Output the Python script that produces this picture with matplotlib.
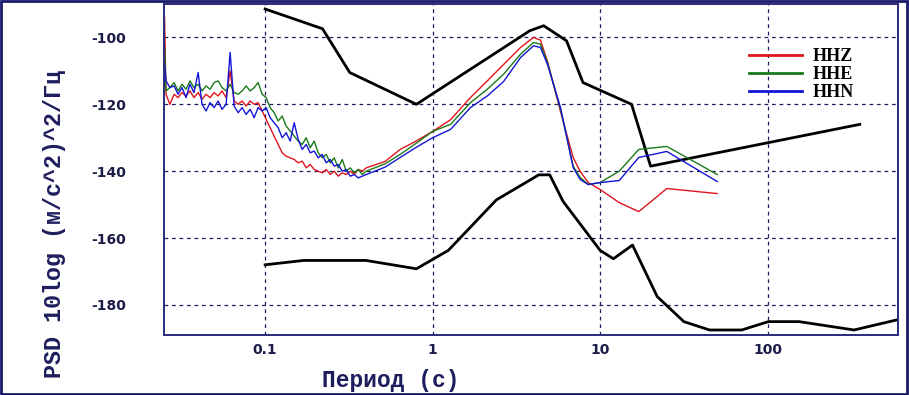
import numpy as np
import matplotlib
matplotlib.use('Agg')
import matplotlib.pyplot as plt
from matplotlib.patches import Rectangle
from matplotlib.ticker import FixedLocator, FixedFormatter, NullLocator

plt.rcParams['axes.unicode_minus'] = False

# Peterson noise models (high / low), period in s, PSD in dB
NHNM_PERIOD = [0.1, 0.22, 0.32, 0.8, 3.8, 4.6, 6.3, 7.9, 15.4, 20.0, 354.8]
NHNM_DB = [-91.5, -97.4, -110.5, -120.0, -98.0, -96.5, -101.0, -113.5,
           -120.0, -138.5, -126.0]
NLNM_PERIOD = [0.1, 0.17, 0.4, 0.8, 1.24, 2.4, 4.3, 5.0, 6.0, 10.0, 12.0,
               15.6, 21.9, 31.6, 45.0, 70.0, 101.0, 154.0, 328.0, 600.0]
NLNM_DB = [-168.0, -166.7, -166.7, -169.2, -163.7, -148.6, -141.1, -141.1,
           -149.0, -163.7, -166.2, -162.1, -177.5, -185.0, -187.5, -187.5,
           -185.0, -185.0, -187.5, -184.4]

# station channels, shared period axis
PERIOD = [0.0251,
          0.0256, 0.0270, 0.0286, 0.0302, 0.0319, 0.0337, 0.0356, 0.0376,
          0.0398, 0.0420, 0.0444, 0.0469, 0.0496, 0.0524, 0.0553, 0.0585,
          0.0618, 0.0653, 0.0690, 0.0729, 0.0770, 0.0814, 0.0860, 0.0908,
          0.0960, 0.1014, 0.1071, 0.1132, 0.1196, 0.1264, 0.1335, 0.1411,
          0.1491, 0.1575, 0.1664, 0.1758, 0.1858, 0.1963, 0.2074, 0.2192,
          0.2316, 0.2447, 0.2585, 0.2731, 0.2886, 0.3049, 0.3222, 0.3404,
          0.3597, 0.3800, 0.4015,
          0.52, 0.64, 0.79, 1.0, 1.28, 1.68, 2.12, 2.65, 3.35, 4.0, 4.4,
          4.85, 5.8, 6.9, 7.6, 8.5, 10.0, 13.0, 17.0, 25.0, 50.0]

HHZ = [-94.0,
       -117.0, -120.0, -117.0, -118.0, -116.5, -117.5, -116.0, -118.0,
       -116.5, -118.5, -117.0, -118.0, -116.5, -117.5, -116.0, -118.0,
       -110.0, -119.0, -120.0, -119.0, -120.5, -119.0, -120.0, -119.5,
       -122.0, -124.5, -127.0, -129.5, -132.0, -134.5, -135.5, -136.0,
       -136.5, -137.5, -137.0, -139.0, -138.0, -139.5, -140.0, -140.5,
       -139.5, -141.0, -140.0, -141.5, -140.5, -141.0, -140.0, -141.0,
       -139.5, -140.0, -139.0,
       -137.1, -133.5, -131.1, -128.1, -124.6, -118.0, -113.0, -108.1,
       -103.0, -100.0, -100.8, -107.2, -122.2, -135.9, -140.1, -143.4,
       -145.5, -149.4, -152.1, -145.2, -146.7]

HHE = [-103.0,
       -116.0, -115.0, -113.5, -116.0, -114.0, -115.5, -113.0, -115.0,
       -114.0, -116.0, -114.5, -115.5, -113.5, -113.0, -115.0, -116.0,
       -114.0, -116.5, -117.0, -116.0, -114.5, -116.0, -115.0, -113.5,
       -117.0, -118.0, -121.0, -122.5, -125.0, -123.5, -126.5, -128.0,
       -129.5, -131.0, -132.0, -130.0, -133.0, -131.0, -134.5, -136.0,
       -135.0, -137.5, -136.0, -139.0, -136.5, -140.0, -139.0, -140.5,
       -139.5, -141.0, -140.0,
       -137.8, -135.0, -131.8, -128.1, -126.0, -119.5, -115.5, -111.0,
       -105.0, -101.5, -102.0, -107.5, -121.5, -138.5, -141.9, -144.0,
       -143.4, -140.0, -133.5, -132.6, -141.0]

HHN = [-108.0,
       -113.0, -115.0, -114.5, -117.0, -115.0, -118.0, -114.0, -116.5,
       -110.5, -120.0, -122.0, -119.5, -121.0, -119.0, -121.5, -120.0,
       -104.5, -120.5, -122.5, -121.0, -123.0, -121.5, -124.0, -121.0,
       -122.0, -121.0, -124.0, -125.5, -127.0, -130.0, -128.5, -131.0,
       -125.5, -130.5, -133.5, -132.0, -134.5, -134.0, -136.0, -135.0,
       -137.5, -136.5, -138.5, -138.0, -140.0, -139.5, -141.5, -141.0,
       -142.0, -141.5, -141.0,
       -138.8, -135.9, -133.0, -130.0, -127.5, -121.0, -117.5, -113.2,
       -106.0, -102.5, -103.0, -108.1, -121.0, -138.9, -142.5, -144.0,
       -143.4, -142.8, -135.9, -134.1, -143.1]

X_TICKS = [0.1, 1, 10, 100]
X_TICK_LABELS = ['0.1', '1', '10', '100']
Y_TICKS = [-180, -160, -140, -120, -100]

NAVY = '#1e1e5e'
TICK_COLOR = '#1c1c48'
MONO = ['Liberation Mono', 'DejaVu Sans Mono']


def main():
    fig = plt.figure(figsize=(9.09, 3.95), dpi=100, facecolor='white')
    ax = fig.add_axes([164 / 909, 1 - 335 / 395, 734 / 909, 331 / 395])

    ax.plot(NHNM_PERIOD, NHNM_DB, color='black', lw=2.0)
    ax.plot(NLNM_PERIOD, NLNM_DB, color='black', lw=2.0)

    ax.plot(PERIOD, HHZ, color='#e0141c', lw=1.0, label='HHZ')
    ax.plot(PERIOD, HHE, color='#1a7a1a', lw=1.0, label='HHE')
    ax.plot(PERIOD, HHN, color='#1414d8', lw=1.0, label='HHN')

    ax.set_xscale('log')
    ax.set_xlim(0.0249, 600)
    ax.set_ylim(-189, -90)

    ax.xaxis.set_major_locator(FixedLocator(X_TICKS))
    ax.xaxis.set_major_formatter(FixedFormatter(X_TICK_LABELS))
    ax.xaxis.set_minor_locator(NullLocator())
    ax.set_yticks(Y_TICKS)

    ax.grid(True, which='major', color=NAVY, lw=0.9, ls=(0, (3, 3)))
    ax.tick_params(axis='both', length=0, labelcolor=TICK_COLOR, labelsize=10)
    ax.tick_params(axis='y', pad=27)
    ax.tick_params(axis='x', pad=6)
    for lab in ax.get_xticklabels() + ax.get_yticklabels():
        lab.set_fontweight('bold')

    for sp in ax.spines.values():
        sp.set_color('#2a2a7a')
        sp.set_linewidth(1.4)

    fig.text(55 / 909, 1 - 224 / 395, 'PSD 10log (м/с^2)^2/Гц',
             rotation=90, ha='center', va='center', family=MONO,
             fontsize=16.8, fontweight='bold', color=NAVY)
    fig.text(322 / 909, 1 - 381 / 395, 'Период (с)', ha='left',
             va='center', family=MONO, fontsize=16.5, fontweight='bold',
             color=NAVY)

    leg = ax.legend(loc='upper left', bbox_to_anchor=(733 / 909, 1 - 32 / 395),
                    bbox_transform=fig.transFigure, frameon=False,
                    handlelength=2.9, handletextpad=0.6, labelspacing=0.05,
                    prop={'family': 'Liberation Serif', 'weight': 'bold',
                          'size': 13})
    for line in leg.get_lines():
        line.set_linewidth(2.0)

    fig.patches.append(Rectangle((0.001, 0.002), 0.997, 0.995,
                                 transform=fig.transFigure, fill=False,
                                 edgecolor='#1a1a6a', lw=2.0))

    fig.savefig('out.png', dpi=100)
    plt.close(fig)


if __name__ == '__main__':
    main()
